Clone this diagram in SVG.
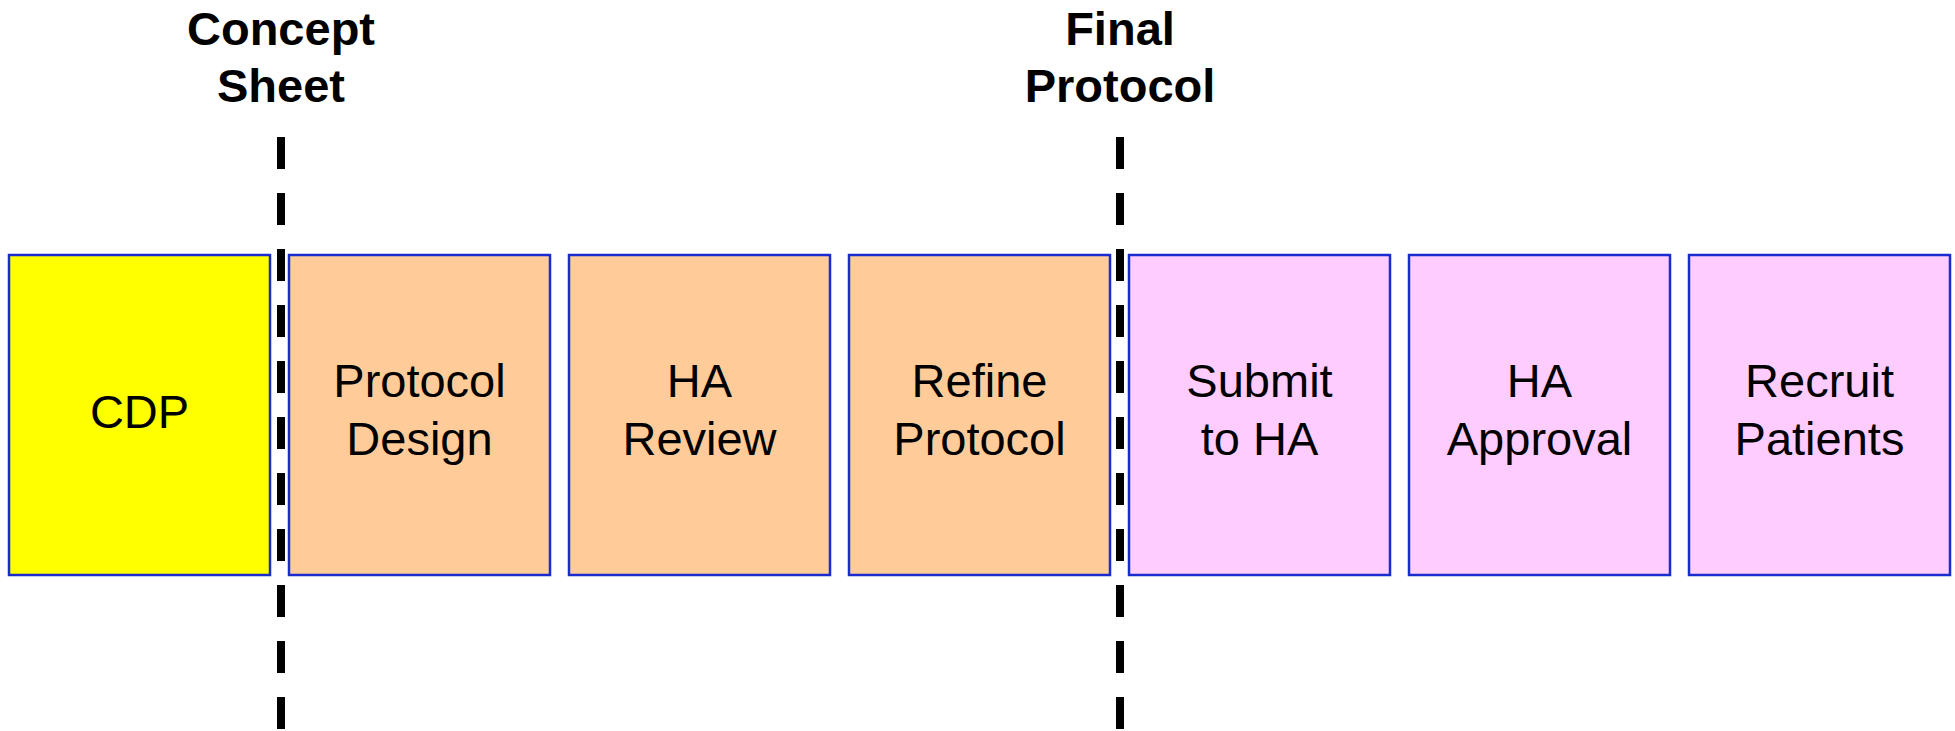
<svg xmlns="http://www.w3.org/2000/svg" width="1955" height="731" viewBox="0 0 1955 731">
<style>
.box{stroke:#1a2ccf;stroke-width:2.5}
.t{font-family:"Liberation Sans",Arial,sans-serif;font-size:47px;fill:#000;text-anchor:middle}
.h{font-family:"Liberation Sans",Arial,sans-serif;font-size:47px;font-weight:bold;fill:#000;text-anchor:middle}
.dash{stroke:#000;stroke-width:8;stroke-dasharray:32 24;fill:none}
</style>
<rect width="1955" height="731" fill="#fff"/>
<g id="label-concept"><text class="h" x="281" y="45">Concept</text><text class="h" x="281" y="102">Sheet</text></g>
<g id="label-final"><text class="h" x="1120" y="45">Final</text><text class="h" x="1120" y="102">Protocol</text></g>
<g id="cdp"><rect class="box" x="9" y="255" width="261" height="320" fill="#ffff00"/><text class="t" x="139.5" y="428">CDP</text></g>
<g id="protocol-design"><rect class="box" x="289" y="255" width="261" height="320" fill="#ffcc99"/><text class="t" x="419.5" y="397">Protocol</text><text class="t" x="419.5" y="455">Design</text></g>
<g id="ha-review"><rect class="box" x="569" y="255" width="261" height="320" fill="#ffcc99"/><text class="t" x="699.5" y="397">HA</text><text class="t" x="699.5" y="455">Review</text></g>
<g id="refine-protocol"><rect class="box" x="849" y="255" width="261" height="320" fill="#ffcc99"/><text class="t" x="979.5" y="397">Refine</text><text class="t" x="979.5" y="455">Protocol</text></g>
<g id="submit-to-ha"><rect class="box" x="1129" y="255" width="261" height="320" fill="#ffccff"/><text class="t" x="1259.5" y="397">Submit</text><text class="t" x="1259.5" y="455">to HA</text></g>
<g id="ha-approval"><rect class="box" x="1409" y="255" width="261" height="320" fill="#ffccff"/><text class="t" x="1539.5" y="397">HA</text><text class="t" x="1539.5" y="455">Approval</text></g>
<g id="recruit-patients"><rect class="box" x="1689" y="255" width="261" height="320" fill="#ffccff"/><text class="t" x="1819.5" y="397">Recruit</text><text class="t" x="1819.5" y="455">Patients</text></g>
<g id="connectors">
<line class="dash" x1="281" y1="137" x2="281" y2="731"/>
<line class="dash" x1="1120" y1="137" x2="1120" y2="731"/>
</g>
</svg>
